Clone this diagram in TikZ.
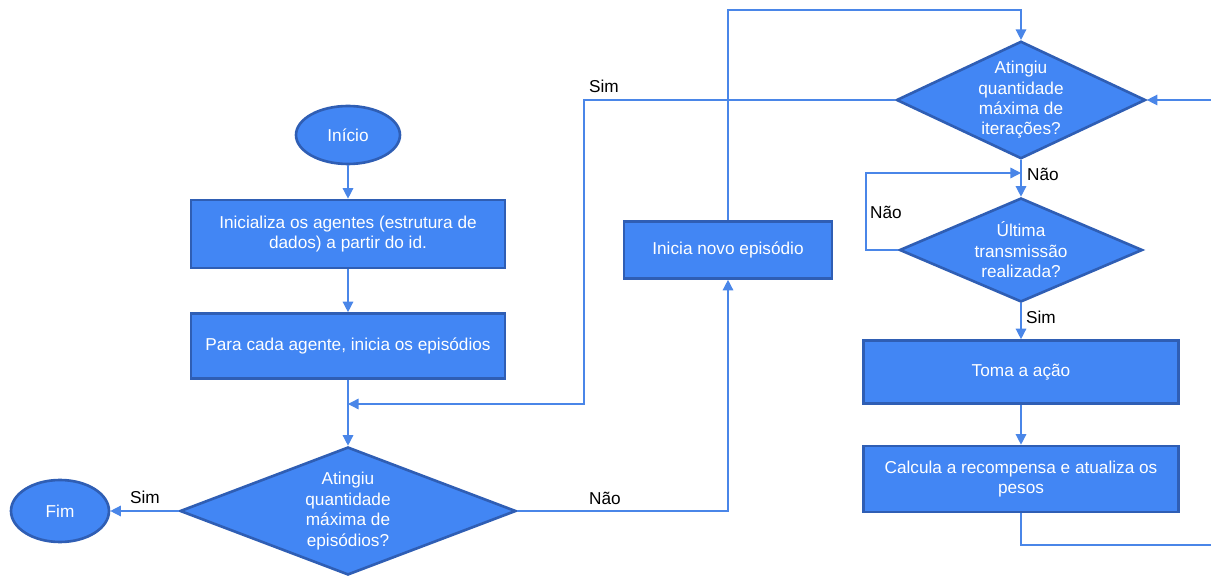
\documentclass[tikz,border=0pt]{standalone}
\usepackage{fontspec}
\setmainfont{Liberation Sans}
\usetikzlibrary{shapes.geometric,arrows.meta}
\definecolor{boxfill}{RGB}{66,134,244}
\definecolor{boxline}{RGB}{47,94,180}
\definecolor{flowline}{RGB}{74,134,232}
\begin{document}
\begin{tikzpicture}[x=0.02cm, y=-0.02cm,
  every node/.style={font=\fontsize{9.8}{11.6}\selectfont},
  proc/.style={rectangle, fill=boxfill, draw=boxline, line width=1.5pt, text=white, align=center, inner sep=0pt},
  term/.style={ellipse, fill=boxfill, draw=boxline, line width=1.5pt, text=white, inner sep=0pt},
  decision/.style={diamond, fill=boxfill, draw=boxline, line width=1.5pt, text=white, align=center, inner sep=0pt},
  flow/.style={draw=flowline, line width=0.8pt, -{Triangle[width=6pt,length=6pt]}},
  plain/.style={draw=flowline, line width=0.8pt}]
\useasboundingbox (0,0) rectangle (1211,577);
% left column
\node[term, minimum width=2.08cm, minimum height=1.16cm] (inicio) at (348,135) {Início};
\node[proc, minimum width=6.28cm, minimum height=1.36cm] (inicializa) at (348,234) {Inicializa os agentes (estrutura de\\dados) a partir do id.};
\node[proc, minimum width=6.28cm, minimum height=1.3cm] (paracada) at (348,346) {Para cada agente, inicia os episódios};
\node[decision, aspect=2.6, minimum width=6.72cm, minimum height=2.56cm] (maxepis) at (348,511) {Atingiu\\quantidade\\máxima de\\episódios?};
\node[term, minimum width=1.96cm, minimum height=1.24cm] (fim) at (60,511) {Fim};
\coordinate (junc) at (348,404);
% middle
\node[proc, minimum width=4.16cm, minimum height=1.14cm] (novoepis) at (728,250) {Inicia novo episódio};
% right column
\node[decision, aspect=2.12, minimum width=4.88cm, minimum height=2.3cm] (maxiter) at (1021,100) {Atingiu\\quantidade\\máxima de\\iterações?};
\node[decision, aspect=2.34, minimum width=4.86cm, minimum height=2.08cm] (ultima) at (1021,250) {Última\\transmissão\\realizada?};
\node[proc, minimum width=6.3cm, minimum height=1.26cm] (toma) at (1021,372) {Toma a ação};
\node[proc, minimum width=6.3cm, minimum height=1.32cm] (calcula) at (1021,479) {Calcula a recompensa e atualiza os\\pesos};
\coordinate (loopin) at (1021,173);
\coordinate (backin) at (1211,100);
\coordinate (backout) at (1211,545);
% connectors
\draw[flow] (inicio) -- (inicializa);
\draw[flow] (inicializa) -- (paracada);
\draw[flow] (paracada) -- (maxepis);
\draw[flow] (maxepis.west) -- (fim);
\draw[flow] (maxepis.east) -- (728,511) -- (novoepis.south);
\draw[flow] (novoepis.north) -- (728,10) -- (1021,10) -- (maxiter.north);
\draw[flow] (maxiter.west) -- (584,100) -- (584,404) -- (junc);
\draw[flow] (maxiter.south) -- (ultima.north);
\draw[flow] (ultima.west) -- (866,250) -- (866,173) -- (loopin);
\draw[flow] (ultima.south) -- (toma.north);
\draw[flow] (toma) -- (calcula);
\draw[plain] (calcula.south) -- (1021,545) -- (backout);
\draw[flow] (backin) -- (maxiter.east);
% labels
\node (simfim) at (145,497) {Sim};
\node (naonovo) at (605,498) {Não};
\node (simvolta) at (604,86) {Sim};
\node (naoiter) at (1043,174) {Não};
\node (naoultima) at (886,212) {Não};
\node (simultima) at (1041,317) {Sim};
\end{tikzpicture}
\end{document}
